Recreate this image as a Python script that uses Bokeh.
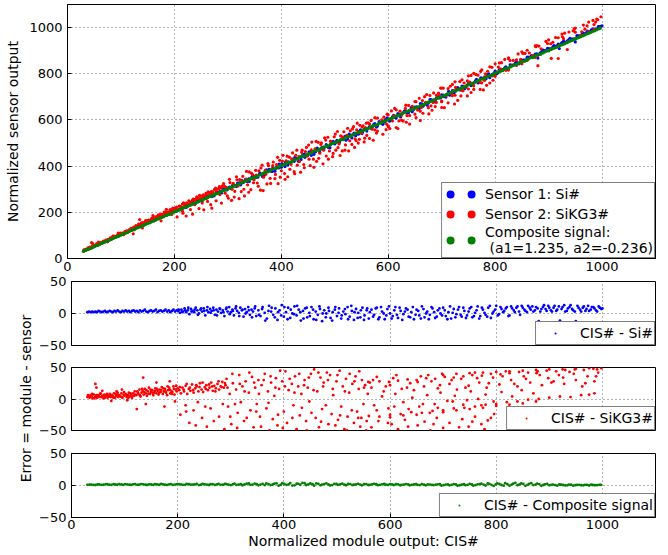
import math
from bokeh.plotting import figure
from bokeh.models import Range1d, FixedTicker, Legend, LegendItem, Label, Grid
from bokeh.layouts import column, row
from bokeh.embed import file_html
from bokeh.resources import INLINE

# ---------------- data ----------------
# each point: (module output CIS#, error)
blue_pts = [
    (30,2),(33,3),(36,2),(39,3),(42,2),(45,3),(48,2),(51,4),(54,3),(57,2),(60,3),(63,4),(66,2),(69,3),
    (72,4),(75,3),(78,2),(81,4),(84,3),(87,5),(90,3),(93,2),(96,4),(99,3),(102,5),(105,3),(108,4),(111,2),
    (114,4),(117,5),(120,3),(123,4),(126,2),(129,5),(132,3),(135,4),(138,6),(141,3),(144,2),(147,4),(150,5),
    (153,3),(156,4),(159,6),(162,2),(165,4),(168,5),(171,3),(174,4),(177,6),(180,3),(183,5),(186,2),(189,4),
    (192,6),(195,3),(198,5),
    (201,4),(204,1),(207,6),(210,3),(213,8),(216,2),(219,5),(222,-1),(225,7),(228,4),(231,2),(234,9),(237,5),
    (240,0),(243,6),(246,3),(249,8),(252,-3),(255,5),(258,2),(261,7),(264,4),(267,9),(270,-2),(273,6),(276,3),
    (279,8),(282,1),(285,5),(288,-4),(291,7),(294,3),(297,10),(300,2),(303,6),(306,-3),(309,8),(312,4),(315,1),
    (318,9),(321,5),(324,-5),(327,7),(330,2),(333,10),(336,-2),(339,6),(342,3),(345,8),(348,-4),
    (352,5),(356,-4),(360,10),(364,1),(368,-8),(372,12),(376,3),(380,-2),(384,8),(388,-10),(392,5),(396,13),
    (400,-5),(404,2),(408,9),(412,-7),(416,0),(420,11),(424,-3),(428,6),(432,-11),(436,4),(440,8),(444,-6),
    (448,1),(452,10),(456,-9),(460,3),(464,-2),(468,7),(472,-12),(476,5),(480,0),(484,9),(488,-7),(492,2),
    (496,6),(500,-4),(504,8),(508,-8),(512,3),(516,-1),(520,10),(524,-5),(528,4),(532,-10),(536,7),(540,1),
    (544,-6),(548,9),(552,-3),(556,5),
    (560,-8),(565,6),(570,-2),(575,9),(580,-6),(585,3),(590,-9),(595,7),(600,0),(605,-4),(610,10),(615,-7),
    (620,4),(625,-1),(630,8),(635,-5),(640,2),(645,-9),(650,6),(655,-3),(660,11),(665,-6),(670,3),(675,-2),
    (680,8),(685,-7),(690,5),(695,0),(700,9),(705,-4),(710,2),(715,-8),(720,7),(725,-1),(730,10),(735,-5),
    (740,4),(745,-3),(750,8),(755,-6),(760,1),(765,11),(770,-4),(775,6),(780,-2),(785,9),(790,-7),(795,3),
    (800,12),(805,-1),(810,7),(815,4),(820,10),(825,-3),(830,8),(835,2),(840,11),(845,-2),
    (850,9),(855,4),(860,12),(865,6),(870,3),(875,10),(880,-12),(885,7),(890,13),(895,4),(900,9),(905,3),
    (910,12),(915,6),(920,-11),(925,10),(930,3),(935,8),(940,13),(945,5),(950,-12),(955,9),(960,3),(965,11),
    (970,7),(975,4),(980,10),(985,8),(990,3),(995,9),(1000,8),
    (202,6),(208,2),(214,5),(220,9),(226,3),(232,6),(238,-2),(244,8),(250,4),(256,10),(262,1),(268,5),
    (274,-3),(280,7),(286,2),(292,9),(298,-1),(304,4),(310,11),(316,-4),(322,6),(328,0),(334,5),(340,-6),
    (346,11),(353,-2),(359,7),(365,-11),(371,4),(377,9),(383,-6),(389,2),(395,-3),(401,10),(407,-9),(413,6),
    (419,-1),(425,12),(431,2),(437,-8),(443,9),(449,-4),(455,6),(461,-10),(467,11),(473,0),(479,-6),(485,4),
    (491,-11),(497,10),(503,1),(509,-3),(515,7),(521,-9),(527,12),(533,2),(539,-7),(545,5),(551,-10),(557,8),
    (562,2),(568,-5),(573,8),(578,-9),(583,10),(588,0),(593,-3),(598,11),(603,-8),(608,5),(613,-2),(618,9),
    (623,-10),(628,3),(633,6),(638,-6),(643,10),(648,-2),(653,4),(658,-8),(663,7),(668,0),(673,-9),(678,10),
    (683,2),(688,-5),(693,8),(698,-3),(703,5),(708,-9),(713,11),(718,1),(723,-6),(728,6),(733,-2),(738,9),
    (743,-7),(748,3),(753,10),(758,-4),(763,5),(768,-8),(773,9),(778,1),(783,-5),(788,12),(793,0),(798,6),
    (803,-3),(808,10),(813,2),(818,8),(823,-4),(828,11),(833,5),(838,9),(843,3),(848,12),(853,6),(858,2),
    (863,9),(868,11),(873,5),(878,8),(883,3),(888,10),(893,7),(898,12),(903,5),(908,9),(913,4),(918,11),
    (923,7),(928,13),(933,4),(938,10),(943,7),(948,3),(953,12),(958,6),(963,9),(968,4),(973,12),(978,6),
    (983,10),(988,5),(993,11),(998,7),
]

red_pts = [
    (30,3),(32,5),(34,2),(36,6),(38,4),(40,1),(42,7),(44,3),(46,5),(48,2),(50,6),(52,4),(54,8),(56,3),(58,5),
    (60,1),(62,7),(64,4),(66,6),(68,2),(70,5),(72,8),(74,3),(76,6),(78,4),(80,9),(82,2),(84,5),(86,7),(88,3),
    (90,6),(92,4),(94,9),(96,2),(98,7),(100,5),(102,8),(104,3),(106,6),(108,10),(110,4),(112,7),(114,2),
    (116,9),(118,5),(120,7),
    (31,6),(35,4),(39,8),(43,1),(47,6),(51,3),(55,9),(59,5),(63,2),(67,8),(71,4),(75,6),(79,2),(83,8),
    (87,10),(91,5),(95,3),(99,11),(103,6),(107,2),(111,9),(115,5),(119,12),
    (45,24),(47,18),(58,13),(75,-3),(95,15),(105,-2),(85,12),
    (122,6),(124,12),(126,8),(128,15),(130,4),(132,10),(134,13),(136,7),(138,16),(140,9),(142,5),(144,12),
    (146,18),(148,8),(150,11),(152,14),(154,6),(156,10),(158,17),(160,9),(162,13),(164,7),(166,15),(168,11),
    (170,19),(172,8),(174,12),(176,16),(178,10),(180,6),(182,14),(184,18),(186,9),(188,13),(190,11),(192,20),
    (194,7),(196,15),(198,12),(200,17),
    (125,10),(129,6),(133,16),(137,11),(141,14),(145,8),(149,15),(153,10),(157,13),(161,16),(165,10),
    (169,14),(173,17),(177,12),(181,20),(185,15),(189,8),(193,16),(197,21),
    (123,-16),(135,34),(140,-8),(160,26),(175,-12),(185,28),(195,-4),
    (203,14),(206,9),(209,18),(212,12),(215,21),(218,8),(221,16),(224,13),(227,23),(230,10),(233,17),(236,20),
    (239,12),(242,25),(245,15),(248,11),(251,19),(254,22),(257,14),(260,18),(263,26),(266,13),(269,21),
    (272,17),(275,24),(278,15),(281,20),(284,27),(287,18),(290,22),
    (204,19),(211,15),(217,24),(223,18),(229,14),(235,22),(241,19),(247,26),(253,16),(259,23),(265,20),
    (271,12),(277,28),(283,19),(289,25),
    (205,-25),(215,-10),(222,-38),(230,-18),(238,-5),(246,-30),(255,-44),(262,-15),(270,-52),(278,-28),(285,-8),
    (216,-20),(234,-42),(252,-12),(268,-35),(288,-48),
    (292,32),(295,-12),(298,8),(301,-40),(304,25),(307,-55),(310,15),(313,-22),(316,38),(319,-5),(322,20),
    (325,-35),(328,28),(331,-60),(334,10),(337,-18),(340,35),(343,-45),(346,18),(349,-8),(352,30),(355,-28),
    (358,22),(361,-65),(364,40),(367,-15),(370,12),(373,-50),(376,26),(379,-32),(382,5),(385,33),(388,-42),
    (391,16),(394,-70),(397,28),(400,-20),(403,44),(406,-38),(409,14),(412,-58),(415,24),(418,-10),(421,36),
    (424,-48),(427,20),(430,-26),(433,8),(436,-62),(439,30),(442,-35),(445,18),(448,-4),(451,40),(454,-52),
    (457,47),(460,-30),(463,12),(466,-45),(469,34),(472,-16),(475,26),(478,-68),(481,42),(484,-40),(487,38),
    (490,-24),(493,6),(496,-55),(499,28),(502,-33),(505,45),(508,-12),(511,20),(514,-48),(517,32),(520,-28),
    (523,10),(526,-60),(529,24),(532,-38),(535,36),(538,-20),(541,16),(544,-44),(547,30),(550,-8),(553,22),
    (556,-35),(559,27),
    (294,18),(299,-28),(303,40),(308,-8),(312,-46),(317,24),(321,-62),(326,12),(330,-30),(335,42),(339,-52),
    (344,26),(348,-20),(353,8),(357,-44),(362,30),(366,-72),(371,-6),(375,36),(380,-55),(384,18),(389,-25),
    (393,45),(398,-46),(402,20),(407,-64),(411,32),(416,-30),(420,10),(425,-58),(429,40),(434,-14),(438,22),
    (443,-50),(447,34),(452,-22),(456,14),(461,-66),(465,42),(470,-36),(474,20),(479,-10),(483,30),(488,-58),
    (492,16),(497,-42),(501,38),(506,-26),(510,-64),(515,12),(519,-50),(524,40),(528,-18),(533,28),(537,-56),
    (542,44),(546,-30),(551,18),(555,-50),(558,8),
    (562,26),(580,28),(598,27),(615,29),(633,31),(650,30),(668,33),(685,32),(703,35),(720,34),(738,36),
    (755,38),(773,37),(790,40),(808,39),(825,41),(843,43),(860,42),(878,44),(895,45),(913,44),(930,46),
    (948,47),(965,46),(983,48),(998,49),
    (700,38),(725,40),(750,41),(775,42),(800,43),(825,44),(850,45),(875,46),(900,47),(925,47),(950,48),
    (975,49),(990,47),
    (565,18),(575,35),(588,12),(600,22),(612,38),(622,16),(638,25),(645,14),(658,36),(664,20),(678,28),
    (690,17),(698,40),(712,24),(726,15),(734,32),(748,21),(760,42),(768,26),(782,18),(794,34),(806,23),
    (818,44),(828,30),(840,20),(852,36),(864,26),(876,41),(886,22),(898,33),(908,28),(918,38),(928,24),
    (938,43),(950,30),(962,20),(972,36),(985,28),(992,42),
    (568,30),(592,20),(606,33),(632,18),(652,27),(672,38),(694,22),(716,30),(742,18),(764,33),(786,25),
    (812,36),(834,24),(856,32),(882,38),(904,26),(926,34),(946,40),(968,25),(988,36),
    (540,-30),(560,-27),(580,-28),(600,-25),(620,-24),(640,-21),(660,-22),(680,-19),(700,-18),(720,-15),
    (740,-14),(760,-12),(780,-9),(800,-8),(820,-5),(840,-4),(860,-1),(880,0),(900,2),(920,4),(940,3),
    (960,6),(975,7),(985,9),
    (600,-29),(625,-26),(650,-25),(675,-22),(700,-21),(725,-18),(750,-16),(775,-14),(800,-11),(825,-9),
    (850,-7),(875,-4),
    (565,-45),(578,-35),(590,-52),(603,-40),(615,-48),(628,-33),(640,-58),(652,-42),(665,-36),(676,-50),
    (688,-30),(700,-46),(712,-38),(724,-55),(736,-32),(748,-44),(760,-28),(772,-40),(784,-34),(796,-24),
    (572,-60),(596,-38),(618,-55),(634,-44),(660,-62),(682,-40),(705,-52),(730,-45),(755,-36),(778,-48),
    (790,-30),(575,-18),(608,-12),(635,-16),(662,-8),(690,-14),(718,-4),(745,-2),(772,-10),
    (570,-10),(585,4),(597,-15),(610,8),(625,-5),(642,2),(655,-12),(670,6),(684,-8),(695,10),(708,-3),
    (722,5),(738,-9),(752,12),(766,0),(780,7),(795,-4),(810,11),(830,4),(848,14),(870,9),
    (880,-45),(918,-52),(905,-38),(935,-30),
]

green_pts = [
    (30,1.0),(37,1.5),(45,0.8),(52,1.8),(60,1.2),(67,2.0),(75,1.0),(82,1.6),(90,2.2),(97,1.1),(105,1.7),
    (112,0.9),(120,2.1),(127,1.4),(135,1.9),(142,0.8),(150,1.6),(157,2.3),(165,1.2),(172,1.8),(180,0.9),
    (187,2.2),(195,1.5),(202,2.0),(210,1.0),(217,2.4),(225,1.3),(232,1.9),(240,0.7),(247,2.5),(255,1.4),
    (262,2.1),(270,0.9),(277,2.6),(285,1.2),(292,2.0),(300,0.6),(307,2.8),(315,1.5),(322,0.4),(330,2.7),
    (337,1.1),(345,3.0),(352,0.2),(360,2.4),(367,3.2),(375,0.6),(382,2.9),(390,-0.2),(397,3.5),(405,1.0),
    (412,3.8),(420,0.3),(427,2.6),(435,4.0),(442,0.8),(450,3.1),(457,-0.3),(465,2.7),(472,1.4),(480,3.3),
    (487,0.1),(495,2.5),(502,1.0),(510,2.9),(517,0.4),(525,2.2),(532,1.2),(540,2.6),(547,0.3),(555,2.0),
    (562,1.1),(570,2.4),(577,0.5),(585,1.9),(592,1.3),(600,2.2),(607,0.6),(615,1.8),(622,1.0),(630,2.3),
    (637,0.4),(645,1.6),(652,0.9),(660,2.0),(667,0.2),(675,1.5),(682,0.7),(690,1.9),(697,-0.2),(705,1.4),
    (712,0.3),(720,2.1),(727,-0.4),(735,1.2),(742,0.5),(750,2.4),(757,-0.3),(765,1.8),(772,3.0),(780,0.0),
    (787,2.6),(795,-0.6),(802,3.3),(810,0.8),(817,3.6),(825,-0.2),(832,2.8),(840,0.5),(847,3.2),(855,-0.5),
    (862,2.4),(870,0.6),(877,3.0),(885,-0.4),(892,1.9),(900,0.2),(907,1.5),(915,-0.3),(922,1.2),(930,0.1),
    (937,1.4),(945,-0.2),(952,0.9),(960,0.4),(967,1.1),(975,0.0),(982,0.8),(990,0.5),(997,0.9),
    (34,1.3),(41,0.9),(49,1.6),(56,1.1),(64,1.9),(71,1.3),(79,2.0),(86,1.2),(94,1.7),(101,2.1),(109,1.3),
    (116,1.8),(124,1.0),(131,2.2),(139,1.5),(146,1.9),(154,1.1),(161,1.7),(169,2.4),(176,1.2),(184,1.9),
    (191,1.0),(199,2.3),(206,1.6),(214,1.1),(221,2.0),(229,1.5),(236,2.6),(244,1.2),(251,1.8),(259,0.8),
    (266,2.3),(274,1.6),(281,1.0),(289,2.4),(296,1.3),(304,1.9),(311,0.9),(319,2.2),(326,1.6),(334,3.1),
    (341,1.3),(349,2.0),(356,1.4),(364,0.7),(371,2.2),(379,1.6),(386,3.4),(394,0.9),(401,2.4),(409,1.7),
    (416,-0.1),(424,2.9),(431,1.2),(439,3.5),(446,1.6),(454,2.0),(461,3.2),(469,0.2),(476,2.3),(484,1.6),
    (491,0.6),(499,2.7),(506,1.8),(514,1.3),(521,2.5),(529,0.6),(536,1.9),(544,1.5),(551,2.3),(559,0.8),
    (566,1.6),(574,2.0),(581,1.1),(589,2.5),(596,0.9),(604,1.6),(611,2.0),(619,0.4),(626,1.4),(634,1.9),
    (641,1.1),(649,2.2),(656,0.6),(664,1.3),(671,1.8),(679,0.9),(686,1.2),(694,2.1),(701,0.7),(709,1.6),
    (716,1.0),(724,1.7),(731,0.4),(739,2.0),(746,1.0),(754,1.6),(761,0.6),(769,2.2),(776,1.4),(784,3.1),
    (791,1.0),(799,1.8),(806,2.4),(814,-0.3),(821,2.0),(829,1.5),(836,4.0),(844,1.8),(851,2.5),(859,1.0),
    (866,3.6),(874,1.5),(881,2.2),(889,0.8),(896,2.6),(904,1.0),(911,0.6),(919,1.7),(926,0.8),(934,0.3),
    (941,1.2),(949,0.5),(956,1.0),(964,0.2),(971,0.9),(979,1.2),(986,0.4),(994,1.0),
]

x_ticks = [0, 200, 400, 600, 800, 1000]
main_y_ticks = [0, 200, 400, 600, 800, 1000]
err_y_ticks = [-50, 0, 50]

main_labels = ["Sensor 1: Si#", "Sensor 2: SiKG3#", "Composite signal:\n (a1=1.235, a2=-0.236)"]
err_labels = ["CIS# - Si#", "CIS# - SiKG3#", "CIS# - Composite signal"]
colors = ["#0000ff", "#ff0000", "#008000"]

# ---------------- helpers ----------------
FONT = "DejaVu Sans"
TICK_FS = "13px"
LABEL_FS = "14px"
NAN = float("nan")


def unzip(pts):
    return [p[0] for p in pts], [p[1] for p in pts]


series = [unzip(blue_pts), unzip(red_pts), unzip(green_pts)]


def style(p):
    p.outline_line_color = "black"
    p.outline_line_width = 1
    p.background_fill_color = "white"
    p.border_fill_color = "white"
    for ax in p.axis:
        ax.axis_line_color = "black"
        ax.major_tick_line_color = "black"
        ax.major_tick_in = 4
        ax.major_tick_out = 0
        ax.minor_tick_line_color = None
        ax.major_label_text_font = FONT
        ax.major_label_text_font_size = TICK_FS
        ax.major_label_text_color = "black"
        ax.axis_label_text_font = FONT
        ax.axis_label_text_font_size = LABEL_FS
        ax.axis_label_text_font_style = "normal"
        ax.axis_label_text_color = "black"
    p.grid.grid_line_color = "black"
    p.grid.grid_line_alpha = 0.6
    p.grid.grid_line_dash = "1 3"


def legend_dot(p, color, width, dash, offset):
    # invisible proxy (single NaN point) used only for the legend glyph
    return p.line(x=[NAN], y=[NAN], line_color=color, line_width=width, line_cap="round",
                  line_dash=dash, line_dash_offset=offset)


def make_legend(items, glyph_w, standoff):
    return Legend(items=items, location="bottom_right", margin=0, padding=1, spacing=0,
                  glyph_width=glyph_w, glyph_height=20, label_height=20, label_standoff=standoff,
                  label_text_font=FONT, label_text_font_size=LABEL_FS, label_text_color="black",
                  border_line_color="black", border_line_width=1,
                  background_fill_color="white", background_fill_alpha=1)


# ---------------- main plot ----------------
top = figure(width=658, height=275, output_backend="svg", toolbar_location=None,
             x_range=Range1d(0, 1100), y_range=Range1d(0, 1100),
             min_border_left=67, min_border_right=3, min_border_top=4, min_border_bottom=17)
style(top)
top.xaxis.ticker = FixedTicker(ticks=x_ticks)
top.yaxis.ticker = FixedTicker(ticks=main_y_ticks)
top.xaxis.major_label_standoff = 3
top.yaxis.major_label_standoff = 5
top.yaxis.axis_label = "Normalized sensor output"
top.yaxis.axis_label_standoff = 5

sizes = [3.2, 3.2, 3.5]
for (xs, es), c, s in zip(series, colors, sizes):
    ys = [x + e for x, e in zip(xs, es)]
    top.scatter(xs, ys, size=s, marker="circle", fill_color=c, line_color=None)

items = []
for lab_text, c in zip(main_labels, colors):
    r = legend_dot(top, c, 8, "0 21", 14)
    items.append(LegendItem(label=lab_text, renderers=[r]))
top.add_layout(make_legend(items, 34, 8))

# ---------------- error panels ----------------
panels = []
heights = [81, 85, 110]
tops = [6, 11, 12]
bottoms = [11, 11, 34]
for i in range(3):
    last = i == 2
    p = figure(width=622, height=heights[i], output_backend="svg", toolbar_location=None,
               x_range=Range1d(0, 1100), y_range=Range1d(-50, 50),
               x_axis_type="linear" if last else None,
               min_border_left=31, min_border_right=3,
               min_border_top=tops[i], min_border_bottom=bottoms[i])
    if not last:
        p.add_layout(Grid(dimension=0, ticker=FixedTicker(ticks=x_ticks)))
    style(p)
    p.yaxis.ticker = FixedTicker(ticks=err_y_ticks)
    p.yaxis.major_label_overrides = {-50: "\u221250"}
    p.yaxis.major_label_standoff = 5
    if last:
        p.xaxis.ticker = FixedTicker(ticks=x_ticks)
        p.xaxis.major_label_standoff = 2
        p.xaxis.axis_label = "Normalized module output: CIS#"
        p.xaxis.axis_label_standoff = 1
    xs, es = series[i]
    p.scatter(xs, es, size=2.8, marker="circle", fill_color=colors[i], line_color=None)
    r = legend_dot(p, colors[i], 2, "0 100", 82)
    p.add_layout(make_legend([LegendItem(label=err_labels[i], renderers=[r])], 30, 13))
    panels.append(p)

# shared y label of the three error panels
lab_h = sum(heights)
lab = figure(width=36, height=lab_h, output_backend="svg", toolbar_location=None,
             x_range=Range1d(0, 36), y_range=Range1d(0, lab_h),
             x_axis_type=None, y_axis_type=None, min_border=0)
lab.outline_line_color = None
lab.add_layout(Label(x=25, y=lab_h - 123, text="Error = module - sensor", angle=math.pi / 2,
                     text_align="center", text_baseline="middle",
                     text_font=FONT, text_font_size=LABEL_FS, text_color="black"))

layout = column(top, row(lab, column(*panels)))
open("out.html", "w").write(file_html(layout, INLINE))
